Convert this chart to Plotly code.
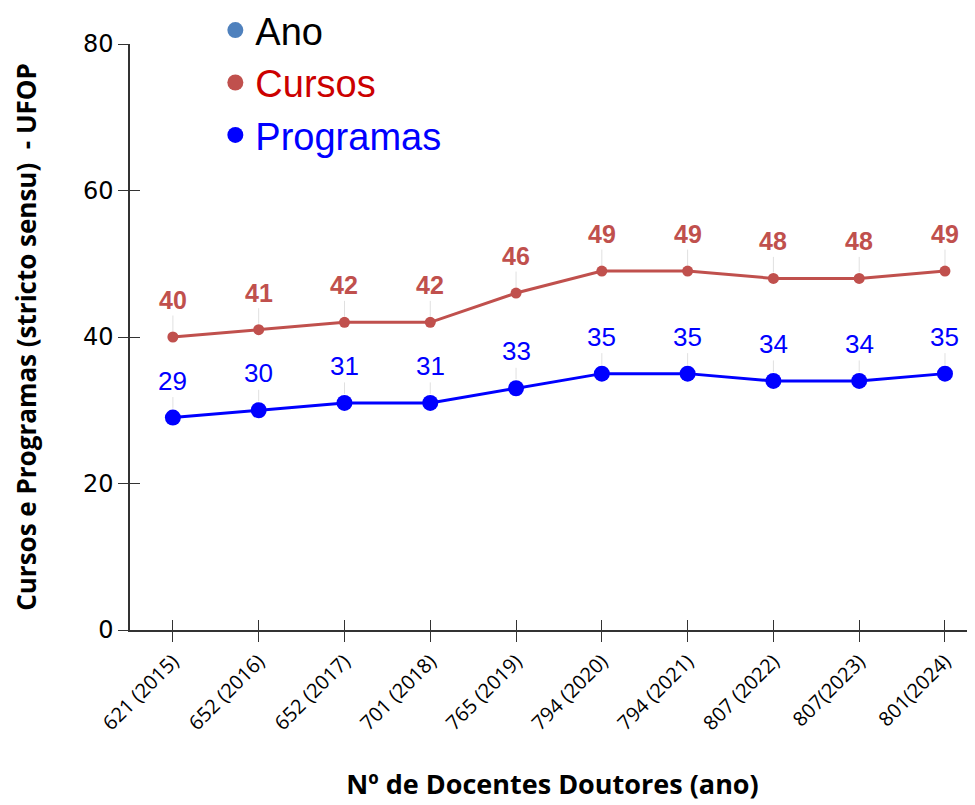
import plotly.graph_objects as go

categorias = ["621 (2015)", "652 (2016)", "652 (2017)", "701 (2018)", "765 (2019)",
              "794 (2020)", "794 (2021)", "807 (2022)", "807(2023)", "801(2024)"]
cursos = [40, 41, 42, 42, 46, 49, 49, 48, 48, 49]
programas = [29, 30, 31, 31, 33, 35, 35, 34, 34, 35]

C_CURSOS = "#c0504d"
C_PROG = "#0000ff"
C_ANO = "#4f81bd"

fig = go.Figure()
# legend-only entries (markers only)
fig.add_trace(go.Scatter(x=[None], y=[None], mode="markers", name="Ano",
                         marker=dict(color=C_ANO, size=16)))
fig.add_trace(go.Scatter(x=[None], y=[None], mode="markers",
                         name="<span style='color:#cc0000'>Cursos</span>",
                         marker=dict(color=C_CURSOS, size=16)))
fig.add_trace(go.Scatter(x=[None], y=[None], mode="markers",
                         name="<span style='color:#0000ff'>Programas</span>",
                         marker=dict(color=C_PROG, size=16)))
# data
fig.add_trace(go.Scatter(x=categorias, y=cursos, mode="lines+markers", name="Cursos",
                         showlegend=False,
                         line=dict(color=C_CURSOS, width=3),
                         marker=dict(color=C_CURSOS, size=11)))
fig.add_trace(go.Scatter(x=categorias, y=programas, mode="lines+markers", name="Programas",
                         showlegend=False,
                         line=dict(color=C_PROG, width=3),
                         marker=dict(color=C_PROG, size=16)))
# overlay axes for inside tick halves
fig.add_trace(go.Scatter(x=categorias, y=cursos, xaxis="x2", yaxis="y2",
                         mode="markers", marker=dict(opacity=0), showlegend=False,
                         hoverinfo="skip"))

ann = []
for c, v in zip(categorias, cursos):
    ann.append(dict(x=c, y=v, text=f"<b>{v}</b>", showarrow=True, ax=0, ay=-37,
                    arrowhead=0, arrowwidth=1, arrowcolor="#e0e0e0", standoff=6,
                    font=dict(family="Liberation Sans, Arial", size=25, color=C_CURSOS)))
for c, v in zip(categorias, programas):
    ann.append(dict(x=c, y=v, text=str(v), showarrow=True, ax=0, ay=-37,
                    arrowhead=0, arrowwidth=1, arrowcolor="#e0e0e0", standoff=9,
                    font=dict(family="Liberation Sans, Arial", size=26, color=C_PROG)))

xrange = [-0.5, 9.35]
fig.update_layout(
    width=975, height=805,
    margin=dict(l=122, r=8, t=36, b=183, autoexpand=False),
    plot_bgcolor="white", paper_bgcolor="white",
    showlegend=True,
    legend=dict(x=0.101, y=1.077, xanchor="left", yanchor="top",
                font=dict(family="Liberation Sans, Arial", size=38, color="black"),
                bgcolor="rgba(0,0,0,0)", tracegroupgap=0),
    annotations=ann,
    xaxis=dict(type="category", range=xrange, showline=True, linecolor="#333",
               linewidth=1.5, ticks="outside", ticklen=10, tickcolor="#333",
               tickangle=-45, showgrid=False, zeroline=False, automargin=False,
               tickfont=dict(family="Open Sans, Carlito", size=20, color="black"),
               title=dict(text="<b>Nº de Docentes Doutores (ano)</b>", standoff=40,
                          font=dict(family="Open Sans", size=27, color="black"))),
    yaxis=dict(range=[0, 80], dtick=20, showline=True, linecolor="#333", linewidth=1.5,
               ticks="outside", ticklen=10, tickcolor="#333", showgrid=False,
               zeroline=False, automargin=False,
               tickfont=dict(family="DejaVu Sans, Verdana", size=24, color="black"),
               title=dict(text="<b>Cursos e Programas (stricto sensu)  - UFOP</b>",
                          standoff=42,
                          font=dict(family="Open Sans", size=26, color="black"))),
    xaxis2=dict(type="category", range=xrange, overlaying="x", anchor="y2",
                ticks="inside", ticklen=10, tickcolor="#333", showticklabels=False,
                showgrid=False, zeroline=False, showline=False),
    yaxis2=dict(range=[0, 80], dtick=20, overlaying="y", anchor="x2", ticks="inside",
                ticklen=10, tickcolor="#333", showticklabels=False, showgrid=False,
                zeroline=False, showline=False),
)
fig.write_html("out.html")
